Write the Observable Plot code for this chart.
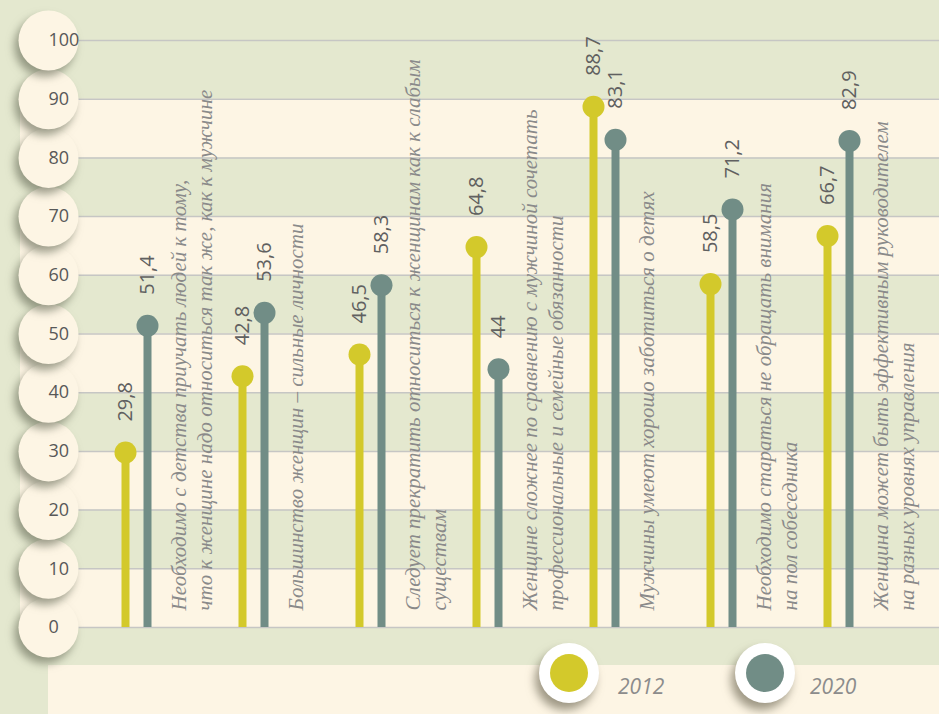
<!DOCTYPE html>
<html>
<head>
<meta charset="utf-8">
<script src="https://cdn.jsdelivr.net/npm/d3@7"></script>
<script src="https://cdn.jsdelivr.net/npm/@observablehq/plot@0.6"></script>
<style>
  html, body { margin: 0; padding: 0; background: #e4e8cf; overflow: hidden; }
  #chart { width: 939px; height: 714px; }
</style>
</head>
<body>
<div id="chart"></div>
<script>
// ---- data ----
const categories = [
  "Необходимо с детства приучать людей к тому,\nчто к женщине надо относиться так же, как к мужчине",
  "Большинство женщин – сильные личности",
  "Следует прекратить относиться к женщинам как к слабым\nсуществам",
  "Женщине сложнее по сравнению с мужчиной сочетать\nпрофессиональные и семейные обязанности",
  "Мужчины умеют хорошо заботиться о детях",
  "Необходимо стараться не обращать внимания\nна пол собеседника",
  "Женщина может быть эффективным руководителем\nна разных уровнях управления"
];
const values2012 = [29.8, 42.8, 46.5, 64.8, 88.7, 58.5, 66.7];
const values2020 = [51.4, 53.6, 58.3, 44, 83.1, 71.2, 82.9];
const seriesNames = ["2012", "2020"];
const yTicks = [0, 10, 20, 30, 40, 50, 60, 70, 80, 90, 100];

// ---- styles ----
const YELLOW = "#d3c92b";
const TEAL = "#718d86";
const CREAM = "#fdf5e4";
const GREEN = "#e4e8cf";

const rows = categories.map((c, i) => ({cat: c, v2012: values2012[i], v2020: values2020[i]}));
const creamBands = yTicks.filter((t, i) => i % 2 === 0 && t < 100).map(t => ({y1: t, y2: t + 10}));
const fmt = v => String(v).replace(".", ",");

const plot = Plot.plot({
  width: 939,
  height: 714,
  marginTop: 40,
  marginBottom: 87,
  marginLeft: 20,
  marginRight: 0,
  style: {background: GREEN, overflow: "visible"},
  x: {type: "point", domain: categories, range: [74, 899], padding: 0.5, axis: null},
  y: {domain: [0, 100], axis: null},
  marks: [
    Plot.rect(creamBands, {y1: "y1", y2: "y2", fill: CREAM}),
    Plot.ruleY(yTicks, {stroke: "#c6c6c4", strokeWidth: 1.5}),
    // bars 2012
    Plot.ruleX(rows, {x: "cat", y1: 0, y2: "v2012", stroke: YELLOW, strokeWidth: 8, dx: -11}),
    Plot.dot(rows, {x: "cat", y: "v2012", r: 11, fill: YELLOW, dx: -11}),
    // bars 2020
    Plot.ruleX(rows, {x: "cat", y1: 0, y2: "v2020", stroke: TEAL, strokeWidth: 8, dx: 11}),
    Plot.dot(rows, {x: "cat", y: "v2020", r: 11, fill: TEAL, dx: 11}),
    // value labels
    Plot.text(rows, {x: "cat", y: "v2012", text: d => fmt(d.v2012), rotate: -90, textAnchor: "start", lineAnchor: "middle",
      dx: -11, dy: -31, fontSize: 20, fill: "#606060", fontFamily: "Open Sans"}),
    Plot.text(rows, {x: "cat", y: "v2020", text: d => fmt(d.v2020), rotate: -90, textAnchor: "start", lineAnchor: "middle",
      dx: 11, dy: -31, fontSize: 20, fill: "#606060", fontFamily: "Open Sans"}),
    // category labels
    Plot.text(rows, {x: "cat", text: "cat", frameAnchor: "bottom", rotate: -90, textAnchor: "start", lineAnchor: "top",
      lineHeight: 1.2, dx: 32, dy: -17, fontSize: 21, fontStyle: "italic", fill: "#8a8a8a", fontFamily: "Liberation Serif"}),
    // y tick circles and labels
    Plot.dot(yTicks, {y: d => d, frameAnchor: "left", dx: 28, r: 30, fill: CREAM, ariaDescription: "tickcircles"}),
    Plot.text(yTicks, {y: d => d, text: d => String(d), frameAnchor: "left", dx: 28, fontSize: 18, fill: "#585858", fontFamily: "Open Sans"})
  ]
});

document.getElementById("chart").appendChild(plot);

const svg = d3.select(plot);
svg.selectAll('g[aria-description="tickcircles"] circle')
  .style("filter", "drop-shadow(-4px 6px 4px rgba(95,100,80,0.6))");

// legend area
svg.insert("rect", ":first-child")
  .attr("x", 48).attr("y", 665).attr("width", 939 - 48).attr("height", 714 - 665)
  .attr("fill", CREAM);
svg.insert("rect", ":first-child")
  .attr("x", 0).attr("y", 0).attr("width", 939).attr("height", 714)
  .attr("fill", GREEN);

const legend = svg.append("g");
const legendItems = [
  {name: seriesNames[0], color: YELLOW, cx: 569, tx: 618},
  {name: seriesNames[1], color: TEAL, cx: 765, tx: 810}
];
legendItems.forEach(it => {
  legend.append("circle").attr("cx", it.cx).attr("cy", 673).attr("r", 30).attr("fill", "#ffffff")
    .style("filter", "drop-shadow(-4px 7px 5px rgba(95,90,70,0.6))");
  legend.append("circle").attr("cx", it.cx).attr("cy", 673).attr("r", 19).attr("fill", it.color);
  legend.append("text").attr("x", it.tx).attr("y", 694).text(it.name)
    .attr("text-anchor", "start")
    .attr("font-family", "Open Sans").attr("font-style", "italic").attr("font-size", 21).attr("fill", "#8c8c8c");
});
</script>
</body>
</html>
